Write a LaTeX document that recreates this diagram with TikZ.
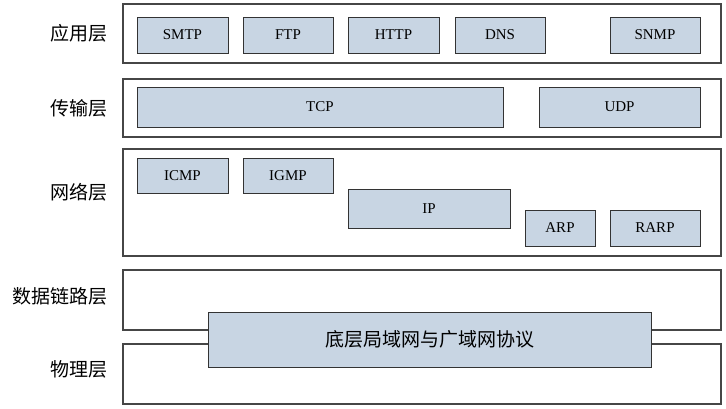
\documentclass[tikz,border=0pt]{standalone}
\usepackage{fontspec}
\setmainfont{Liberation Serif}
\newfontfamily\cjk{Noto Sans CJK SC}
\definecolor{boxblue}{RGB}{200,213,227}
\definecolor{edgegray}{RGB}{70,70,70}
\tikzset{
  layerbox/.style={draw=edgegray,line width=1.2pt,fill=white,anchor=north west,inner sep=0pt,outer sep=0pt,minimum width=598pt},
  protobox/.style={draw=black!80,line width=0.9pt,fill=boxblue,anchor=north west,inner sep=0pt,outer sep=0pt,font=\fontsize{15}{15}\selectfont},
  layername/.style={anchor=east,inner sep=0pt,font=\cjk\fontsize{19}{19}\selectfont}
}
\begin{document}
\begin{tikzpicture}[x=1pt,y=-1pt]
\useasboundingbox (0,0) rectangle (726,408);
% layers
\node (app) at (123,4)[layerbox,minimum height=59pt]{};
\node (trans) at (123,79)[layerbox,minimum height=58pt]{};
\node (net) at (123,149)[layerbox,minimum height=107pt]{};
\node (link) at (123,270)[layerbox,minimum height=60pt]{};
\node (phys) at (123,344)[layerbox,minimum height=60pt]{};

\node (appname) at (108,33)[layername]{应用层};
\node (transname) at (108,108)[layername]{传输层};
\node (netname) at (108,192)[layername]{网络层};
\node (linkname) at (108,296)[layername]{数据链路层};
\node (physname) at (108,369)[layername]{物理层};

% application protocols
\foreach \x/\w/\name in {137/91/SMTP,243/90/FTP,348/91/HTTP,455/90/DNS,610/90/SNMP}
{
    \node (\name) at (\x,17)[protobox,minimum width=\w pt,minimum height=36pt]{\name};
}
\node (TCP) at (137,87)[protobox,minimum width=366pt,minimum height=40pt]{TCP};
\node (UDP) at (539,87)[protobox,minimum width=161pt,minimum height=40pt]{UDP};

\node (ICMP) at (137,158)[protobox,minimum width=91pt,minimum height=35pt]{ICMP};
\node (IGMP) at (243,158)[protobox,minimum width=90pt,minimum height=35pt]{IGMP};
\node (IP) at (348,189)[protobox,minimum width=162pt,minimum height=39pt]{IP};
\node (ARP) at (525,210)[protobox,minimum width=70pt,minimum height=36pt]{ARP};
\node (RARP) at (610,210)[protobox,minimum width=90pt,minimum height=36pt]{RARP};

\node (lan) at (208,312)[protobox,minimum width=443pt,minimum height=55pt,font=\cjk\fontsize{19}{19}\selectfont]{底层局域网与广域网协议};
\end{tikzpicture}
\end{document}
